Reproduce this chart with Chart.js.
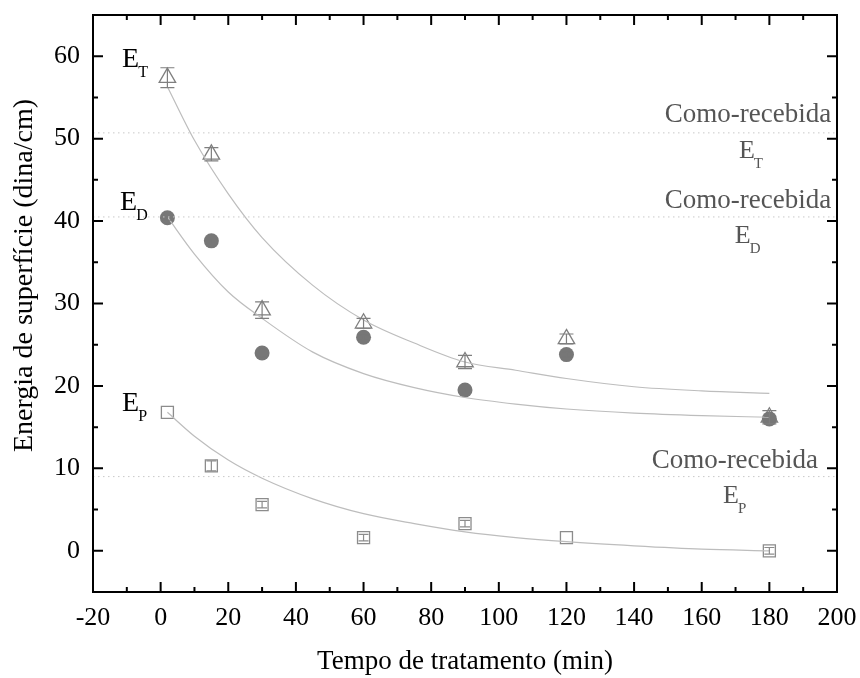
<!DOCTYPE html>
<html lang="pt">
<head>
  <meta charset="UTF-8">
  <title>Energia de superfície</title>
  <script src="https://cdn.jsdelivr.net/npm/chart.js"></script>
  <style>
    body { margin: 0; background: #fff; }
    #chart { display: block; }
  </style>
</head>
<body>
  <canvas id="chart" width="860" height="678"></canvas>

  <script>
    // measured points
    const times = [2, 15, 30, 60, 90, 120, 180];
    const eT = [57.4, 48.1, 29.2, 27.6, 22.9, 25.7, 16.2];
    const eTErr = [1.2, 0.8, 1.0, 0.6, 0.8, 0.6, 0.8];
    const eD = [40.4, 37.6, 24.0, 25.9, 19.5, 23.8, 16.0];
    const eDErr = [0.3, 0.3, 0.5, 0.3, 0.3, 0.3, 0.3];
    const eP = [16.8, 10.3, 5.6, 1.6, 3.3, 1.6, 0.0];
    const ePErr = [0, 0.6, 0.4, 0.4, 0.4, 0, 0.4];

    // fitted curves
    const fitX = [2, 10, 20, 30, 45, 60, 75, 90, 105, 120, 140, 160, 180];
    const fitT = [56.3, 49.8, 43.3, 38.0, 32.2, 28.0, 25.2, 22.9, 21.9, 20.9, 19.9, 19.4, 19.1];
    const fitD = [40.5, 36.0, 31.4, 28.2, 24.1, 21.5, 19.8, 18.6, 17.8, 17.2, 16.7, 16.4, 16.2];
    const fitP = [16.8, 13.9, 11.0, 8.8, 6.3, 4.5, 3.3, 2.3, 1.6, 1.1, 0.6, 0.2, 0.0];

    // "como-recebida" reference levels
    const refNames = ['T', 'D', 'P'];
    const refLevels = [50.7, 40.5, 9.0];

    // axes
    const xTicks = [-20, 0, 20, 40, 60, 80, 100, 120, 140, 160, 180, 200];
    const xMinor = [-10, 10, 30, 50, 70, 90, 110, 130, 150, 170, 190];
    const yTicks = [0, 10, 20, 30, 40, 50, 60];
    const yMinor = [5, 15, 25, 35, 45, 55];
    const yTitle = 'Energia de superfície (dina/cm)';

    const FONT = "'Liberation Serif', 'Times New Roman', serif";

    const pts = (xs, ys) => xs.map((v, i) => ({ x: v, y: ys[i] }));

    // text labels: [main, sub, x, y, align, size, color]
    const labels = [
      ['E', 'T', -11.4, 58.7, 'left', 28, '#000'],
      ['E', 'D', -12.0, 41.4, 'left', 28, '#000'],
      ['E', 'P', -11.4, 17.0, 'left', 28, '#000'],
      ['Como-recebida', '', 198.3, 52.0, 'right', 27, '#555'],
      ['E', 'T', 171.0, 47.7, 'left', 26, '#555'],
      ['Como-recebida', '', 198.3, 41.6, 'right', 27, '#555'],
      ['E', 'D', 169.8, 37.4, 'left', 26, '#555'],
      ['Como-recebida', '', 194.4, 10.1, 'right', 27, '#555'],
      ['E', 'P', 166.3, 5.8, 'left', 26, '#555']
    ];

    const decor = {
      id: 'decor',
      afterDatasetsDraw(chart) {
        const { ctx, scales: { y } } = chart;
        ctx.save();
        chart.data.datasets.forEach((ds, di) => {
          if (!ds.errors) return;
          const meta = chart.getDatasetMeta(di);
          ctx.strokeStyle = ds.borderColor;
          ctx.lineWidth = 1.2;
          meta.data.forEach((el, i) => {
            const e = ds.errors[i];
            if (!e) return;
            const v = ds.data[i].y;
            const t = y.getPixelForValue(v + e), b = y.getPixelForValue(v - e);
            const w = ds.capWidth;
            ctx.beginPath();
            ctx.moveTo(el.x, t); ctx.lineTo(el.x, b);
            ctx.moveTo(el.x - w, t); ctx.lineTo(el.x + w, t);
            ctx.moveTo(el.x - w, b); ctx.lineTo(el.x + w, b);
            ctx.stroke();
          });
        });
        ctx.restore();
      },
      afterDraw(chart) {
        const { ctx, chartArea: a, scales: { x, y } } = chart;
        ctx.save();
        ctx.strokeStyle = '#000';
        ctx.lineWidth = 2;
        ctx.strokeRect(a.left, a.top, a.right - a.left, a.bottom - a.top);
        ctx.beginPath();
        const tickX = (vals, len) => vals.forEach(v => {
          const p = x.getPixelForValue(v);
          ctx.moveTo(p, a.bottom); ctx.lineTo(p, a.bottom - len);
          ctx.moveTo(p, a.top); ctx.lineTo(p, a.top + len);
        });
        const tickY = (vals, len) => vals.forEach(v => {
          const p = y.getPixelForValue(v);
          ctx.moveTo(a.left, p); ctx.lineTo(a.left + len, p);
          ctx.moveTo(a.right, p); ctx.lineTo(a.right - len, p);
        });
        tickX(xTicks, 10); tickX(xMinor, 5);
        tickY(yTicks, 10); tickY(yMinor, 5);
        ctx.stroke();

        // y axis title, sits a bit above the middle like the original
        ctx.save();
        ctx.translate(25, (a.top + a.bottom) / 2 - 28);
        ctx.rotate(-Math.PI / 2);
        ctx.fillStyle = '#000';
        ctx.font = '28px ' + FONT;
        ctx.textAlign = 'center';
        ctx.textBaseline = 'middle';
        ctx.fillText(yTitle, 0, 0);
        ctx.restore();

        ctx.textBaseline = 'alphabetic';
        labels.forEach(([main, sub, lx, ly, align, size, color]) => {
          const px = x.getPixelForValue(lx), py = y.getPixelForValue(ly);
          ctx.fillStyle = color;
          ctx.font = size + 'px ' + FONT;
          ctx.textAlign = align;
          ctx.fillText(main, px, py);
          if (sub) {
            const w = ctx.measureText(main).width;
            ctx.font = Math.round(size * 0.58) + 'px ' + FONT;
            ctx.textAlign = 'left';
            ctx.fillText(sub, px + w - 1, py + 10);
          }
        });
        ctx.restore();
      }
    };

    const curve = (data) => ({
      type: 'line', data, borderColor: '#bdbdbd', borderWidth: 1.2,
      pointRadius: 0, cubicInterpolationMode: 'monotone', fill: false
    });

    const refLines = refLevels.map((lv, i) => ({
      type: 'line', label: 'Como-recebida E' + refNames[i],
      data: [{ x: -20, y: lv }, { x: 200, y: lv }],
      borderColor: '#c8c8c8', borderWidth: 1, borderDash: [1.5, 3.5],
      pointRadius: 0, fill: false
    }));

    new Chart(document.getElementById('chart'), {
      type: 'scatter',
      data: {
        datasets: [
          ...refLines,
          curve(pts(fitX, fitT)),
          curve(pts(fitX, fitD)),
          curve(pts(fitX, fitP)),
          { label: 'ED', data: pts(times, eD), errors: eDErr, capWidth: 5,
            pointStyle: 'circle', pointRadius: 7.5, backgroundColor: '#777', borderColor: '#777', borderWidth: 0 },
          { label: 'ET', data: pts(times, eT), errors: eTErr, capWidth: 7,
            pointStyle: 'triangle', pointRadius: 9.5, backgroundColor: 'rgba(0,0,0,0)', borderColor: '#7f7f7f', borderWidth: 1.3 },
          { label: 'EP', data: pts(times, eP), errors: ePErr, capWidth: 5,
            pointStyle: 'rect', pointRadius: 8.5, backgroundColor: 'rgba(0,0,0,0)', borderColor: '#8c8c8c', borderWidth: 1.3 }
        ]
      },
      options: {
        responsive: false,
        animation: false,
        layout: { padding: { top: 15, right: 23, left: 0, bottom: 0 } },
        plugins: { legend: { display: false }, tooltip: { enabled: false } },
        scales: {
          x: {
            type: 'linear', min: -20, max: 200,
            afterBuildTicks: s => { s.ticks = xTicks.map(v => ({ value: v })); },
            afterFit: s => { s.height = 86; s.paddingLeft = 0; s.paddingRight = 0; },
            grid: { display: false }, border: { display: false },
            ticks: { padding: 3, color: '#000', maxRotation: 0, autoSkip: false, font: { family: FONT, size: 26 } },
            title: { display: true, text: 'Tempo de tratamento (min)', color: '#000', padding: { top: 0, bottom: 0 }, font: { family: FONT, size: 27 } }
          },
          y: {
            type: 'linear', min: -5, max: 65,
            afterBuildTicks: s => { s.ticks = yTicks.map(v => ({ value: v })); },
            afterFit: s => { s.width = 93; s.paddingTop = 0; s.paddingBottom = 0; },
            grid: { display: false }, border: { display: false },
            ticks: { padding: 5, color: '#000', font: { family: FONT, size: 26 } },
            title: { display: false }
          }
        }
      },
      plugins: [decor]
    });
  </script>
</body>
</html>
